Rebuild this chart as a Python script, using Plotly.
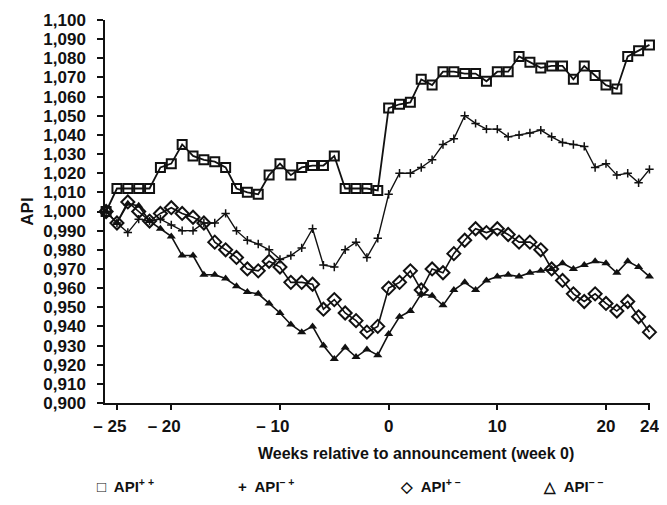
import plotly.graph_objects as go

weeks = list(range(-26, 25))

api_pp = [1.000, 1.012, 1.012, 1.012, 1.012, 1.023, 1.025, 1.035, 1.029, 1.027,
          1.026, 1.023, 1.012, 1.010, 1.009, 1.019, 1.025, 1.019, 1.023, 1.024,
          1.024, 1.029, 1.012, 1.012, 1.012, 1.011,
          1.054, 1.056, 1.057, 1.069, 1.066, 1.073, 1.073, 1.072, 1.072, 1.068,
          1.073, 1.073, 1.081, 1.078, 1.075, 1.076, 1.076, 1.069, 1.076, 1.071,
          1.066, 1.064, 1.081, 1.084, 1.087]

api_mp = [1.000, 0.994, 0.989, 0.996, 0.995, 0.996, 0.993, 0.990, 0.990, 0.994,
          0.994, 0.999, 0.990, 0.985, 0.983, 0.980, 0.975, 0.977, 0.981, 0.991,
          0.972, 0.971, 0.980, 0.984, 0.976, 0.986,
          1.009, 1.020, 1.020, 1.023, 1.027, 1.035, 1.038, 1.050, 1.046, 1.043,
          1.043, 1.039, 1.040, 1.041, 1.0425, 1.039, 1.036, 1.035, 1.034, 1.023,
          1.025, 1.019, 1.020, 1.015, 1.022]

api_pm = [1.000, 0.994, 1.005, 1.000, 0.995, 0.999, 1.002, 0.999, 0.997, 0.994,
          0.984, 0.980, 0.976, 0.970, 0.969, 0.974, 0.971, 0.963, 0.963, 0.962,
          0.949, 0.954, 0.947, 0.943, 0.937, 0.940,
          0.960, 0.963, 0.969, 0.959, 0.970, 0.968, 0.978, 0.985, 0.991, 0.989,
          0.991, 0.988, 0.984, 0.984, 0.980, 0.970, 0.964, 0.957, 0.953, 0.957,
          0.952, 0.948, 0.953, 0.945, 0.937]

api_mm = [1.000, 0.994, 1.004, 1.003, 0.995, 0.991, 0.987, 0.977, 0.977, 0.967,
          0.967, 0.965, 0.961, 0.958, 0.957, 0.952, 0.947, 0.941, 0.937, 0.940,
          0.930, 0.923, 0.929, 0.924, 0.928, 0.925,
          0.936, 0.945, 0.948, 0.957, 0.956, 0.951, 0.959, 0.963, 0.959, 0.964,
          0.966, 0.967, 0.966, 0.968, 0.969, 0.970, 0.973, 0.970, 0.972, 0.974,
          0.973, 0.968, 0.974, 0.971, 0.966]

x_tickvals = [-25, -20, -10, 0, 10, 20, 24]
NB3 = "\u00a0\u00a0\u00a0"
x_ticktext = ["\u2013 25" + NB3, "\u2013 20" + NB3, "\u2013 10" + NB3, "0", "10", "20", "24"]

series_names = ["API<sup>+ +</sup>", "API<sup>\u2013 +</sup>",
                "API<sup>+ \u2013</sup>", "API<sup>\u2013 \u2013</sup>"]
legend_glyphs = ["\u25a1", "+", "\u25c7", "\u25b3"]

FONT = "Liberation Sans, Arial, sans-serif"
BLACK = "#111111"

fig = go.Figure()

fig.add_trace(go.Scatter(
    x=weeks, y=api_mp, mode="lines+markers", name=series_names[1], showlegend=False,
    line=dict(color=BLACK, width=1.4),
    marker=dict(symbol="cross-thin", size=6, color=BLACK, line=dict(color=BLACK, width=1.5)),
    cliponaxis=False))
fig.add_trace(go.Scatter(
    x=weeks, y=api_mm, mode="lines+markers", name=series_names[3], showlegend=False,
    line=dict(color=BLACK, width=1.6),
    marker=dict(symbol="triangle-up", size=8, color=BLACK),
    cliponaxis=False))
fig.add_trace(go.Scatter(
    x=weeks, y=api_pm, mode="lines+markers", name=series_names[2], showlegend=False,
    line=dict(color=BLACK, width=1.6),
    marker=dict(symbol="diamond-open", size=10, color=BLACK, line=dict(color=BLACK, width=2)),
    cliponaxis=False))
fig.add_trace(go.Scatter(
    x=weeks, y=api_pp, mode="lines+markers", name=series_names[0], showlegend=False,
    line=dict(color=BLACK, width=1.8),
    marker=dict(symbol="square-open", size=9, color=BLACK, line=dict(color=BLACK, width=2)),
    cliponaxis=False))

# page body has an 8px default margin: the figure is drawn 8px in from the window edge
OFF = 8
FIG_W, FIG_H = 667 - 2 * OFF, 505 - 2 * OFF
PL, PR = 105, 650     # window pixels of the plot area
PT, PB = 20, 403

def px_x(p):
    return (p - PL) / (PR - PL)

def px_y(p):
    return (PB - p) / (PB - PT)

annotations = [dict(text="Weeks relative to announcement (week 0)",
                    xref="paper", yref="paper", x=px_x(416), y=px_y(453),
                    xanchor="center", yanchor="middle", showarrow=False,
                    font=dict(size=16, color=BLACK, weight="bold"))]
legend_x = [95, 236, 398, 541]
for gx, g, nm in zip(legend_x, legend_glyphs, series_names):
    annotations.append(dict(text=g + "  " + nm, xref="paper", yref="paper",
                            x=px_x(gx), y=px_y(485), xanchor="left", yanchor="middle",
                            showarrow=False,
                            font=dict(size=15, color=BLACK, weight="bold")))

fig.update_layout(
    width=FIG_W, height=FIG_H, autosize=False,
    margin=dict(l=PL - OFF, r=FIG_W - (PR - OFF), t=PT - OFF, b=FIG_H - (PB - OFF)),
    paper_bgcolor="white", plot_bgcolor="white",
    separators=",.",
    font=dict(family=FONT, size=16, color=BLACK),
    showlegend=False,
    annotations=annotations,
)

fig.update_xaxes(
    range=[-26.1, 24.05], showgrid=False, zeroline=False,
    showline=True, linecolor=BLACK, linewidth=1.5,
    ticks="outside", ticklen=5, tickwidth=1.5, tickcolor=BLACK,
    tickvals=x_tickvals, ticktext=x_ticktext,
    tickfont=dict(size=17, color=BLACK, weight="bold"), ticklabelstandoff=2,
    ticklabeloverflow="allow", automargin=False)

fig.update_yaxes(
    range=[0.9, 1.1], showgrid=False, zeroline=False,
    showline=True, linecolor=BLACK, linewidth=1.5,
    ticks="outside", ticklen=6, tickwidth=1.5, tickcolor=BLACK,
    dtick=0.01, tick0=0.9, tickformat=".3f",
    tickfont=dict(size=17, color=BLACK, weight="bold"), ticklabelstandoff=8,
    title=dict(text="API", font=dict(size=17, color=BLACK, weight="bold"), standoff=5),
    automargin=False)

fig.write_html("out.html")
